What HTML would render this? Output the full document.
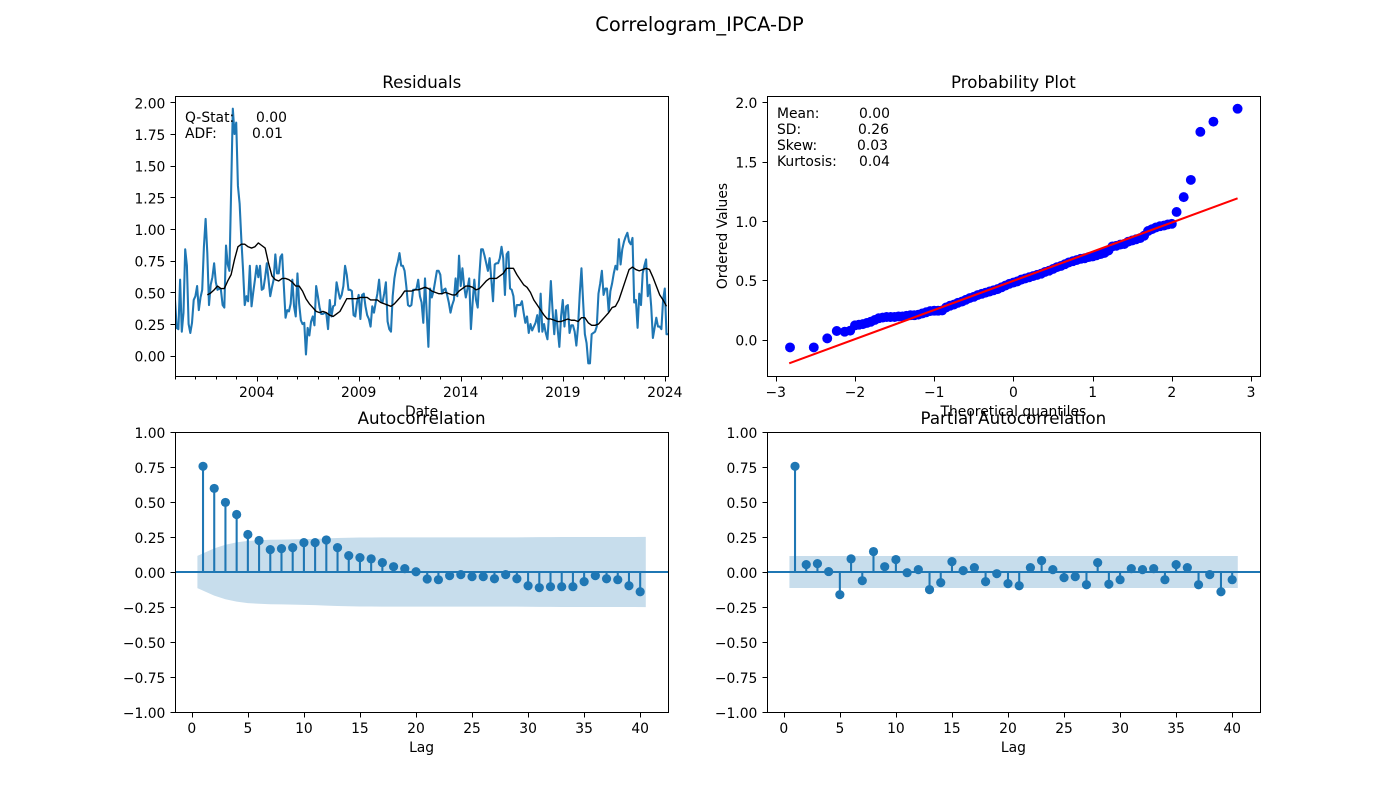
<!DOCTYPE html>
<html lang="en">
<head>
<meta charset="utf-8">
<title>Correlogram_IPCA-DP</title>
<style>
html,body{margin:0;padding:0;background:#fff;}
svg{display:block;position:absolute;left:0;top:0;}
text{font-family:"DejaVu Sans","Liberation Sans",sans-serif;fill:#000;}
.tick{font-size:13.89px;}
.title{font-size:16.67px;text-anchor:middle;}
.label{font-size:13.89px;text-anchor:middle;}
.note{font-size:13.89px;}
</style>
</head>
<body>
<svg id="fig" xmlns="http://www.w3.org/2000/svg" width="1400" height="800" viewBox="0 0 1400 800">
  <defs>
    <clipPath id="clip-res"><rect x="175" y="96" width="493.2" height="280"/></clipPath>
    <clipPath id="clip-prob"><rect x="767" y="96" width="493.2" height="280"/></clipPath>
  </defs>
  <text x="699.5" y="31" text-anchor="middle" font-size="19.44">Correlogram_IPCA-DP</text>

  <g id="panel-res"></g>
  <g id="panel-prob"></g>
  <g id="panel-acf"></g>
  <g id="panel-pacf"></g>

  <text class="title" x="421.8" y="88">Residuals</text>
  <text class="title" x="1013.4" y="88">Probability Plot</text>
  <text class="title" x="421.6" y="424">Autocorrelation</text>
  <text class="title" x="1013.4" y="424">Partial Autocorrelation</text>

  <text class="label" x="421.6" y="416">Date</text>
  <text class="label" x="1013.4" y="416">Theoretical quantiles</text>
  <text class="label" transform="translate(727 236) rotate(-90)">Ordered Values</text>
  <text class="label" x="421.6" y="752">Lag</text>
  <text class="label" x="1013.4" y="752">Lag</text>

  <g>
    <text class="note" y="122"><tspan x="185">Q-Stat:</tspan><tspan x="256">0.00</tspan></text>
    <text class="note" y="138"><tspan x="185">ADF:</tspan><tspan x="252">0.01</tspan></text>
  </g>
  <g>
    <text class="note" y="118"><tspan x="777">Mean:</tspan><tspan x="859">0.00</tspan></text>
    <text class="note" y="134"><tspan x="777">SD:</tspan><tspan x="858">0.26</tspan></text>
    <text class="note" y="150"><tspan x="777">Skew:</tspan><tspan x="857">0.03</tspan></text>
    <text class="note" y="166"><tspan x="777">Kurtosis:</tspan><tspan x="859">0.04</tspan></text>
  </g>
</svg>

<script>
// ---- residuals panel data (monthly from 2000-01) ----
const residuals = [
.44,.22,.21,.60,.19,.34,.84,.71,.25,.18,
.26,.44,.47,.55,.36,.46,.52,.86,1.08,.81,
.40,.56,.62,.73,.58,.52,.53,.52,.40,.38,
.87,.72,.67,1.30,1.95,1.75,1.84,1.34,1.20,.92,
.68,.40,.47,.43,.71,.39,.50,.60,.71,.62,
.71,.52,.53,.62,.73,.60,.47,.54,.60,.80,
.65,.65,.78,.80,.55,.30,.36,.35,.41,.60,
.39,.31,.65,.41,.28,.25,.26,.01,.22,.16,
.27,.31,.24,.55,.47,.38,.33,.33,.34,.33,
.21,.44,.31,.39,.40,.58,.51,.45,.48,.55,
.71,.64,.52,.52,.51,.32,.31,.42,.48,.29,
.48,.49,.39,.32,.29,.23,.39,.34,.42,.49,
.60,.44,.42,.49,.58,.27,.21,.19,.47,.61,
.69,.74,.81,.71,.71,.67,.55,.40,.39,.40,
.52,.52,.53,.60,.47,.42,.26,.61,.34,.07,
.53,.46,.51,.59,.67,.67,.64,.49,.52,.53,
.48,.42,.34,.40,.44,.61,.47,.79,.55,.69,
.55,.46,.53,.61,.21,.42,.60,.44,.38,.64,
.84,.84,.79,.73,.67,.77,.60,.43,.72,.73,
.73,.77,.86,.77,.48,.80,.82,.53,.52,.47,
.31,.40,.40,.40,.43,.34,.26,.31,.18,.25,
.20,.23,.26,.32,.19,.49,.19,.25,.18,.13,
.34,.59,.36,.17,.36,.21,.07,.31,.44,.23,
.39,.40,.18,.24,.24,.19,.08,.23,.49,.69,
.42,.17,.10,-.06,-.06,.17,.18,.19,.23,.49,
.57,.67,.48,.53,.53,.35,.51,.57,.65,.71,
.68,.92,.72,.84,.90,.94,.97,.90,.88,.93,
.42,.44,.22,.49,.40,.65,.71,.76,.47,.56,
.39,.14,.22,.30,.23,.23,.21,.44,.53,.17,.17];
// rolling mean read every second month, first reading at month 19
const rollingMeanFirstMonth = 19;
const rollingMeanMonthStep = 2;
const rollingMean = [
.48,.495,.52,.55,.53,.53,.59,.64,.76,.86,.88,.88,.86,.85,.86,.89,.87,.85,.73,.63,
.60,.59,.61,.61,.60,.58,.55,.55,.51,.45,.41,.38,.35,.34,.35,.34,.32,.31,.33,.35,
.40,.45,.45,.45,.45,.46,.46,.46,.44,.44,.44,.42,.41,.40,.39,.41,.44,.47,.51,.51,
.51,.52,.52,.53,.54,.53,.51,.50,.49,.49,.50,.49,.48,.48,.51,.53,.55,.55,.54,.52,
.53,.56,.59,.61,.61,.61,.63,.65,.69,.69,.69,.64,.60,.56,.54,.50,.44,.40,.36,.32,
.29,.29,.28,.27,.27,.28,.29,.28,.28,.27,.30,.30,.26,.24,.24,.25,.28,.31,.34,.38,
.39,.44,.52,.60,.68,.70,.68,.67,.68,.69,.68,.62,.55,.48,.44,.39];
const resYTicks = [0,.25,.5,.75,1,1.25,1.5,1.75,2];
const resYTickLabels = ['0.00','0.25','0.50','0.75','1.00','1.25','1.50','1.75','2.00'];
const resXMajorMonths = [48,108,168,228,288];
const resXTickLabels = ['2004','2009','2014','2019','2024'];
const resXMinorMonths = [0,12,24,36,60,72,84,96,120,132,144,156,180,192,204,216,240,252,264,276];

// ---- probability plot data ----
const probQuantiles = [-2.82,-2.52,-2.35,-2.23,-2.13,-2.06,
-2,-1.95,-1.9,-1.85,-1.8,-1.75,-1.7,-1.65,-1.6,-1.55,-1.5,-1.45,-1.4,-1.35,-1.3,-1.25,-1.2,-1.15,-1.1,-1.05,
-1,-.95,-.9,-.85,-.8,-.75,-.7,-.65,-.6,-.55,-.5,-.45,-.4,-.35,-.3,-.25,-.2,-.15,-.1,-.05,
0,.05,.1,.15,.2,.25,.3,.35,.4,.45,.5,.55,.6,.65,.7,.75,.8,.85,.9,.95,
1,1.05,1.1,1.15,1.2,1.25,1.3,1.35,1.4,1.45,1.5,1.55,1.6,1.65,1.7,1.75,1.8,1.85,1.9,1.95,2,
2.06,2.15,2.24,2.36,2.525,2.83];
const probOrdered = [-.066,-.066,.01,.072,.066,.075,
.12,.125,.13,.14,.15,.165,.18,.185,.19,.19,.19,.195,.195,.20,.205,.205,.21,.22,.23,.24,
.243,.243,.245,.27,.285,.295,.31,.32,.335,.35,.36,.375,.385,.395,.405,.415,.425,.44,.455,.47,
.48,.49,.505,.515,.525,.535,.545,.555,.57,.58,.595,.61,.62,.635,.65,.66,.67,.68,.685,.695,
.70,.71,.72,.73,.75,.785,.79,.80,.805,.825,.835,.845,.855,.875,.915,.93,.945,.955,.96,.97,.975,
1.075,1.20,1.345,1.75,1.836,1.945];
const fitLineX = [-2.83,2.83];
const fitLineY = [-.2,1.19];
const probXTicks = [-3,-2,-1,0,1,2,3];
const probXTickLabels = ['\u22123','\u22122','\u22121','0','1','2','3'];
const probYTicks = [0,.5,1,1.5,2];
const probYTickLabels = ['0.0','0.5','1.0','1.5','2.0'];

// ---- correlogram data, lags 1..40 ----
const acfValues = [.755,.597,.497,.411,.268,.225,.16,.167,.174,.21,
.21,.229,.174,.117,.103,.094,.067,.038,.024,.002,
-.05,-.055,-.026,-.019,-.033,-.033,-.048,-.019,-.048,-.098,
-.112,-.105,-.105,-.105,-.069,-.026,-.048,-.055,-.098,-.141];
const acfBand = [.115,.169,.195,.212,.222,.227,.23,.231,.233,.235,
.237,.24,.243,.245,.246,.246,.247,.247,.247,.247,
.247,.247,.247,.247,.247,.247,.247,.247,.247,.248,
.249,.249,.25,.25,.25,.25,.25,.25,.25,.251];
const pacfValues = [.755,.053,.06,.003,-.162,.094,-.062,.146,.038,.089,
-.005,.017,-.126,-.076,.074,.01,.031,-.069,-.012,-.083,
-.098,.031,.081,.017,-.04,-.033,-.091,.067,-.087,-.055,
.024,.017,.024,-.055,.053,.031,-.091,-.019,-.141,-.055];
const pacfBand = [.114,.114,.114,.114,.114,.114,.114,.114,.114,.114,
.114,.114,.114,.114,.114,.114,.114,.114,.114,.114,
.114,.114,.114,.114,.114,.114,.114,.114,.114,.114,
.114,.114,.114,.114,.114,.114,.114,.114,.114,.114];
const lagXTicks = [0,5,10,15,20,25,30,35,40];
const lagXTickLabels = ['0','5','10','15','20','25','30','35','40'];
const corrYTicks = [-1,-.75,-.5,-.25,0,.25,.5,.75,1];
const corrYTickLabels = ['\u22121.00','\u22120.75','\u22120.50','\u22120.25','0.00','0.25','0.50','0.75','1.00'];

// ---- helpers ----
const NS = 'http://www.w3.org/2000/svg';
const BLUE = '#1f77b4';
function make(parent, tag, props, text) {
  const node = document.createElementNS(NS, tag);
  for (const key in props) node.setAttribute(key, props[key]);
  if (text !== undefined) node.textContent = text;
  parent.appendChild(node);
  return node;
}
function scale(d0, d1, r0, r1) {
  return function (v) { return r0 + (v - d0) * (r1 - r0) / (d1 - d0); };
}
function snap(v) { return Math.round(v) + 0.5; }

function drawFrame(g, box) {
  const el = make(g, 'rect', {x: box.l + .5, y: box.t + .5, width: box.r - box.l, height: box.b - box.t, fill: 'none', stroke: '#000', 'stroke-width': 1, 'shape-rendering': 'crispEdges'});
  
  
}
function drawXTicks(g, box, xs, values, labels) {
  values.forEach(function (v, i) {
    const px = snap(xs(v));
    const mark = make(g, 'line', {x1: px, x2: px, y1: box.b + .5, y2: box.b + 5.4, stroke: '#000', 'stroke-width': 1, 'shape-rendering': 'crispEdges'});
    
    
    const lab = make(g, 'text', {class: 'tick', x: xs(v), y: box.b + 20.9, 'text-anchor': 'middle'}, labels[i]);
    
    
  });
}
function drawXMinorTicks(g, box, xs, values) {
  values.forEach(function (v) {
    const px = snap(xs(v));
    const mark = make(g, 'line', {x1: px, x2: px, y1: box.b + .5, y2: box.b + 3.4, stroke: '#000', 'stroke-width': .85, 'shape-rendering': 'crispEdges'});
    
    
  });
}
function drawYTicks(g, box, ys, values, labels) {
  values.forEach(function (v, i) {
    const py = snap(ys(v));
    const mark = make(g, 'line', {x1: box.l - 4.4, x2: box.l + .5, y1: py, y2: py, stroke: '#000', 'stroke-width': 1, 'shape-rendering': 'crispEdges'});
    
    
    const lab = make(g, 'text', {class: 'tick', x: box.l - 9.6, y: ys(v) + 6, 'text-anchor': 'end'}, labels[i]);
    
    
  });
}

// ---- residuals ----
(function () {
  const g = document.getElementById('panel-res');
  const box = {l: 175, r: 668.2, t: 96, b: 376};
  const xs = scale(0, residuals.length - 1, box.l, box.r);
  const ys = scale(-.16, 2.05, box.b, box.t);
  const pts = residuals.map(function (v, i) { return xs(i).toFixed(2) + ',' + ys(v).toFixed(2); }).join(' ');
  const line = make(g, 'polyline', {points: pts, fill: 'none', stroke: BLUE, 'stroke-width': 2.08, 'stroke-linejoin': 'round', 'clip-path': 'url(#clip-res)'});
  
  
  const maPts = rollingMean.map(function (v, i) {
    return xs(rollingMeanFirstMonth + i * rollingMeanMonthStep).toFixed(2) + ',' + ys(v).toFixed(2);
  }).join(' ');
  const ma = make(g, 'polyline', {points: maPts, fill: 'none', stroke: '#000', 'stroke-width': 1.39, 'stroke-linejoin': 'round', 'clip-path': 'url(#clip-res)'});
  
  
  drawFrame(g, box);
  drawXMinorTicks(g, box, xs, resXMinorMonths);
  drawXTicks(g, box, xs, resXMajorMonths, resXTickLabels);
  drawYTicks(g, box, ys, resYTicks, resYTickLabels);
})();

// ---- probability plot ----
(function () {
  const g = document.getElementById('panel-prob');
  const box = {l: 767, r: 1260, t: 96, b: 376};
  const xs = scale(-3.113, 3.113, 766.8, 1260);
  const ys = scale(-.307, 2.052, box.b, box.t);
  probQuantiles.forEach(function (q, i) {
    const dot = make(g, 'circle', {cx: xs(q).toFixed(2), cy: ys(probOrdered[i]).toFixed(2), r: 4.95, fill: '#0000ff'});
    
    
  });
  const fit = make(g, 'line', {x1: xs(fitLineX[0]), y1: ys(fitLineY[0]), x2: xs(fitLineX[1]), y2: ys(fitLineY[1]), stroke: '#ff0000', 'stroke-width': 2.08});
  
  
  drawFrame(g, box);
  drawXTicks(g, box, xs, probXTicks, probXTickLabels);
  drawYTicks(g, box, ys, probYTicks, probYTickLabels);
})();

// ---- correlograms ----
function drawCorrelogram(id, box, values, band, prefix) {
  const g = document.getElementById(id);
  const xs = scale(-1.5, 42.5, box.l, box.l + 493.2);
  const ys = scale(-1, 1, box.b, box.t);
  const lags = values.map(function (v, i) { return i + 1; });
  const edge = lags.map(function (lag, i) {
    if (i === 0) return lag - .5;
    if (i === lags.length - 1) return lag + .5;
    return lag;
  });
  const upper = edge.map(function (x, i) { return xs(x).toFixed(2) + ',' + ys(band[i]).toFixed(2); });
  const lower = edge.map(function (x, i) { return xs(x).toFixed(2) + ',' + ys(-band[i]).toFixed(2); }).reverse();
  lags.forEach(function (lag, i) {
    const stem = make(g, 'line', {x1: xs(lag), x2: xs(lag), y1: ys(0), y2: ys(values[i]), stroke: BLUE, 'stroke-width': 2.08});
    
    
  });
  const area = make(g, 'polygon', {points: upper.concat(lower).join(' '), fill: BLUE, 'fill-opacity': .25, stroke: 'none'});
  
  
  const zero = make(g, 'line', {x1: box.l, x2: box.r, y1: ys(0), y2: ys(0), stroke: BLUE, 'stroke-width': 2.08});
  
  
  lags.forEach(function (lag, i) {
    const dot = make(g, 'circle', {cx: xs(lag).toFixed(2), cy: ys(values[i]).toFixed(2), r: 4.6, fill: BLUE});
    
    
  });
  drawFrame(g, box);
  drawXTicks(g, box, xs, lagXTicks, lagXTickLabels);
  drawYTicks(g, box, ys, corrYTicks, corrYTickLabels);
}
drawCorrelogram('panel-acf', {l: 175, r: 668, t: 432, b: 712}, acfValues, acfBand, 'acf');
drawCorrelogram('panel-pacf', {l: 767, r: 1260, t: 432, b: 712}, pacfValues, pacfBand, 'pacf');
</script>
</body>
</html>
